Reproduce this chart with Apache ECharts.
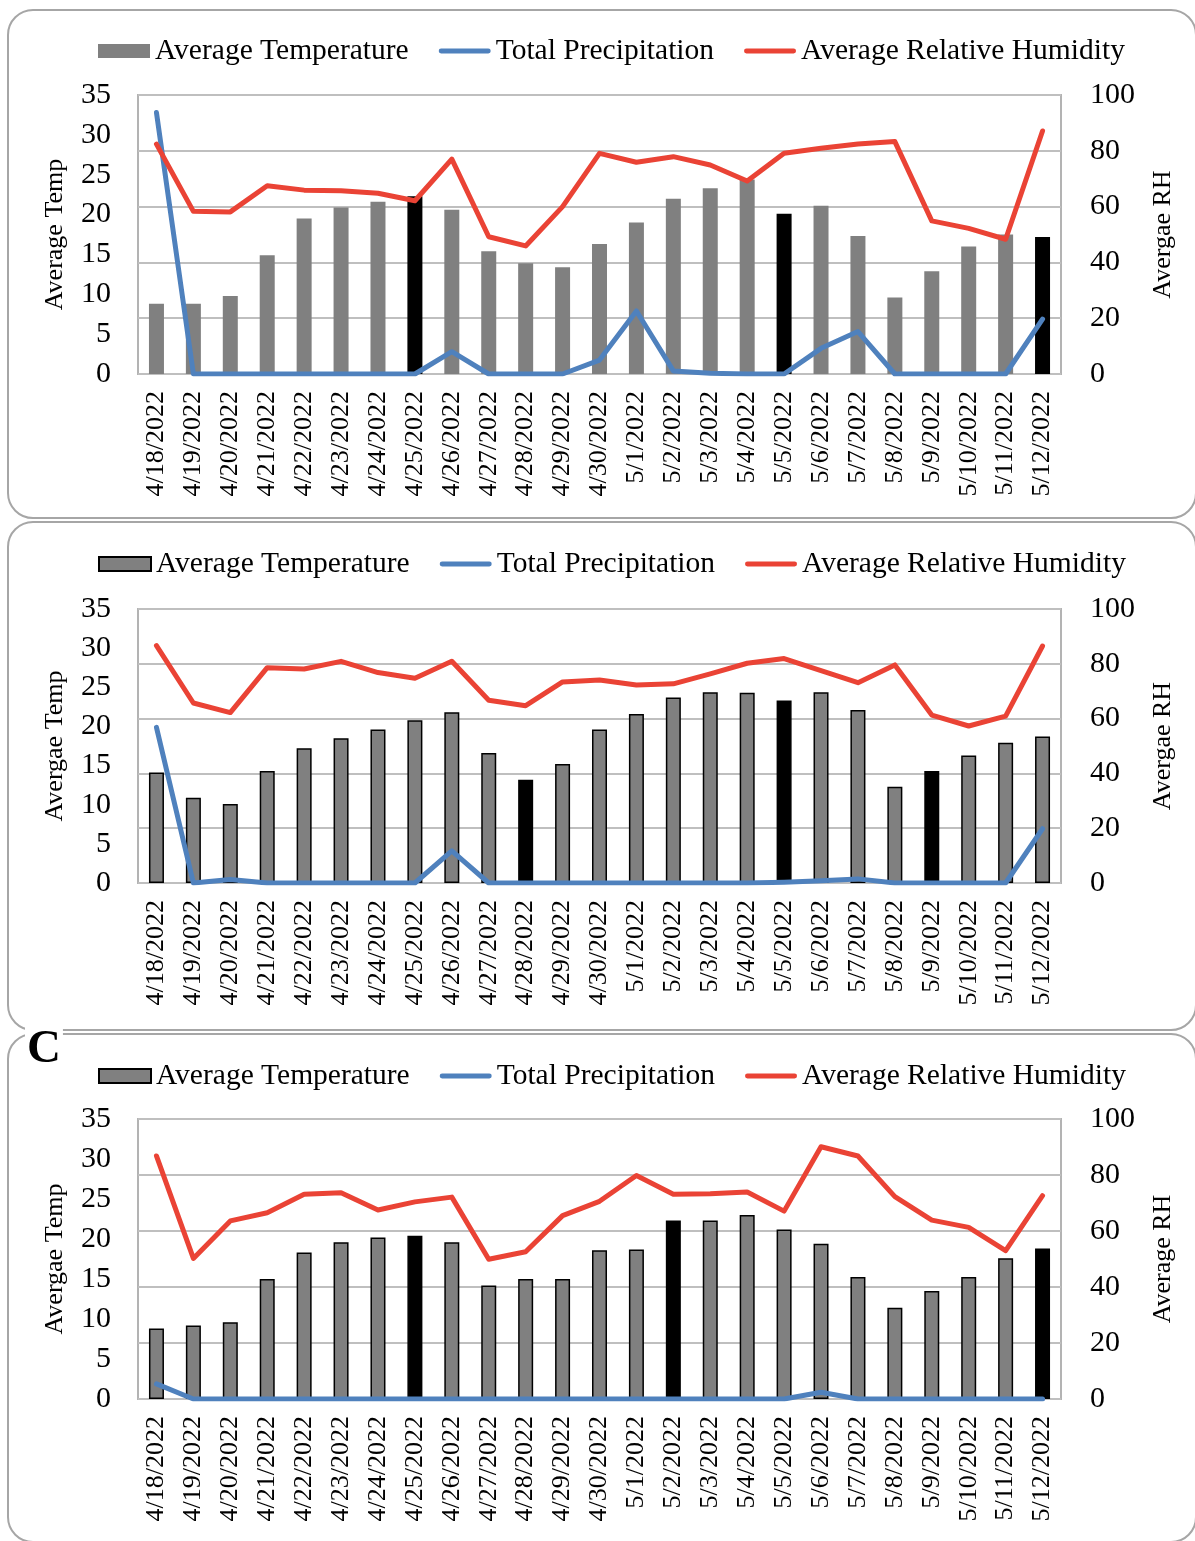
<!DOCTYPE html>
<html>
<head>
<meta charset="utf-8">
<script src="https://cdn.jsdelivr.net/npm/echarts@6/dist/echarts.min.js"></script>
<style>
  html, body { margin: 0; padding: 0; background: #fff; overflow: hidden; }
  #chart { width: 1195px; height: 1541px; }
</style>
</head>
<body>
<div id="chart"></div>
<script>
// categories
const dates = ['4/18/2022', '4/19/2022', '4/20/2022', '4/21/2022', '4/22/2022', '4/23/2022',
  '4/24/2022', '4/25/2022', '4/26/2022', '4/27/2022', '4/28/2022', '4/29/2022', '4/30/2022',
  '5/1/2022', '5/2/2022', '5/3/2022', '5/4/2022', '5/5/2022', '5/6/2022', '5/7/2022',
  '5/8/2022', '5/9/2022', '5/10/2022', '5/11/2022', '5/12/2022']

// axis ticks: [min, max, step]
const tempTicks = [0, 35, 5]
const rhTicks = [0, 100, 20]

// panel 1
const tempA = [8.8, 8.8, 9.8, 14.9, 19.5, 20.9, 21.6, 22.3, 20.6, 15.4, 13.9, 13.4, 16.3,
  19.0, 22.0, 23.3, 24.4, 20.1, 21.1, 17.3, 9.6, 12.9, 16.0, 17.5, 17.2]
const precipA = [93.7, 0, 0, 0, 0, 0, 0, 0, 8.0, 0, 0, 0, 5.0,
  22.6, 1.1, 0.3, 0, 0, 9.2, 15.2, 0, 0, 0, 0, 19.7]
const rhA = [82.4, 58.3, 58.1, 67.5, 65.9, 65.7, 64.8, 62.1, 77.0, 49.2, 45.9, 60.0, 79.1,
  75.9, 77.9, 74.9, 69.2, 79.1, 80.9, 82.4, 83.3, 54.9, 52.2, 48.3, 87.1]
const darkA = [7, 17, 24]

// panel 2
const tempB = [14.1, 10.9, 10.1, 14.3, 17.2, 18.5, 19.6, 20.8, 21.8, 16.6, 13.2, 15.2, 19.6,
  21.6, 23.7, 24.35, 24.3, 23.3, 24.35, 22.1, 12.3, 14.3, 16.3, 17.9, 18.7]
const precipB = [56.8, 0, 1.3, 0, 0, 0, 0, 0, 11.7, 0, 0, 0, 0,
  0, 0, 0, 0, 0.3, 0.8, 1.5, 0, 0, 0, 0, 19.8]
const rhB = [86.6, 65.7, 62.2, 78.6, 78.1, 80.9, 76.8, 74.7, 80.9, 66.7, 64.7, 73.4, 74.1,
  72.3, 72.7, 76.3, 80.2, 81.9, 77.5, 73.1, 79.6, 61.3, 57.3, 60.9, 86.5]
const darkB = [10, 17, 21]

// panel 3
const tempC = [8.8, 9.2, 9.6, 15.0, 18.3, 19.6, 20.2, 20.4, 19.6, 14.2, 15.0, 15.0, 18.6,
  18.7, 22.3, 22.3, 23.0, 21.2, 19.4, 15.25, 11.4, 13.5, 15.25, 17.6, 18.8]
const precipC = [5.4, 0, 0, 0, 0, 0, 0, 0, 0, 0, 0, 0, 0,
  0, 0, 0, 0, 0, 2.4, 0, 0, 0, 0, 0, 0]
const rhC = [86.8, 50.2, 63.6, 66.5, 73.1, 73.7, 67.5, 70.4, 72.1, 49.9, 52.6, 65.5, 70.6,
  79.8, 73.1, 73.3, 73.9, 67.1, 90.1, 86.8, 72.3, 63.9, 61.3, 53.0, 72.6]
const darkC = [7, 14, 24]

const seriesNames = ['Average Temperature', 'Total Precipitation', 'Average Relative Humidity']

const FONT = '"Liberation Serif", "Times New Roman", serif'
const GRAY = '#808080'
const BLUE = '#4f81bd'
const RED = '#ea4335'
const GRID_LINE = '#bfbfbf'
// thin rounded bar used as legend icon for the two lines
const LINE_ICON = 'path://M2.5,0 L51.5,0 A2.5,2.5 0 0 1 51.5,5 L2.5,5 A2.5,2.5 0 0 1 2.5,0 Z'

const panels = [
  { top: 95, height: 279, legendTop: 36, temp: tempA, precip: precipA, rh: rhA, dark: darkA,
    leftName: 'Average Temp', rightName: 'Avergae RH', outlined: false },
  { top: 609, height: 274, legendTop: 549, temp: tempB, precip: precipB, rh: rhB, dark: darkB,
    leftName: 'Avergae Temp', rightName: 'Avergae RH', outlined: true },
  { top: 1119, height: 280, legendTop: 1061, temp: tempC, precip: precipC, rh: rhC, dark: darkC,
    leftName: 'Avergae Temp', rightName: 'Average RH', outlined: true },
]

const option = {
  animation: false,
  backgroundColor: '#fff',
  textStyle: { fontFamily: FONT, color: '#000' },
  title: {
    text: 'C',
    left: 25,
    top: 1026,
    padding: [0, 2, 0, 2],
    backgroundColor: '#fff',
    textStyle: { fontFamily: FONT, fontWeight: 'bold', fontSize: 47, color: '#000' },
  },
  graphic: [],
  grid: [],
  legend: [],
  xAxis: [],
  yAxis: [],
  series: [],
}

// panel frames
const frameTops = [10, 522, 1034]
frameTops.forEach(function (y) {
  option.graphic.push({
    type: 'rect',
    shape: { x: 8, y: y, width: 1188, height: 508, r: 25 },
    style: { fill: 'none', stroke: '#a6a6a6', lineWidth: 2 },
    z: -10,
    silent: true,
  })
})

panels.forEach(function (p, i) {
  option.grid.push({
    left: 138, right: 134, top: p.top, height: p.height,
    show: true, borderColor: '#b3b3b3', borderWidth: 2,
  })

  option.legend.push({
    left: 98,
    top: p.legendTop,
    padding: 0,
    itemWidth: 52,
    itemHeight: 14,
    itemGap: 30,
    selectedMode: false,
    textStyle: { fontFamily: FONT, fontSize: 29.5, color: '#000', lineHeight: 29 },
    data: [
      { name: seriesNames[0], icon: 'rect',
        itemStyle: p.outlined ? { color: GRAY, borderColor: '#000', borderWidth: 2 } : { color: GRAY, borderWidth: 0 } },
      { name: seriesNames[1], icon: LINE_ICON, itemStyle: { color: BLUE, borderWidth: 0 } },
      { name: seriesNames[2], icon: LINE_ICON, itemStyle: { color: RED, borderWidth: 0 } },
    ],
  })

  option.xAxis.push({
    type: 'category',
    gridIndex: i,
    data: dates,
    axisLine: { show: false },
    axisTick: { show: false },
    axisLabel: {
      interval: 0, rotate: 90, margin: 17,
      fontFamily: FONT, fontSize: 26, color: '#000',
    },
  })

  option.yAxis.push({
    type: 'value',
    gridIndex: i,
    min: tempTicks[0], max: tempTicks[1], interval: tempTicks[2],
    name: p.leftName,
    nameLocation: 'middle',
    nameRotate: 90,
    nameGap: 70,
    nameTextStyle: { fontFamily: FONT, fontSize: 26, color: '#000' },
    splitLine: { show: false },
    axisLine: { show: false },
    axisTick: { show: false },
    axisLabel: { margin: 27, fontFamily: FONT, fontSize: 30, color: '#000' },
  })
  option.yAxis.push({
    type: 'value',
    gridIndex: i,
    position: 'right',
    min: rhTicks[0], max: rhTicks[1], interval: rhTicks[2],
    name: p.rightName,
    nameLocation: 'middle',
    nameRotate: 90,
    nameGap: 89,
    nameTextStyle: { fontFamily: FONT, fontSize: 26, color: '#000' },
    splitLine: { show: true, lineStyle: { color: GRID_LINE, width: 2 } },
    axisLine: { show: false },
    axisTick: { show: false },
    axisLabel: { margin: 29, fontFamily: FONT, fontSize: 30, color: '#000' },
  })

  const barData = p.temp.map(function (v, k) {
    if (p.dark.indexOf(k) >= 0) {
      return { value: v, itemStyle: { color: '#000' } }
    }
    return v
  })

  option.series.push({
    name: seriesNames[0],
    type: 'bar',
    xAxisIndex: i,
    yAxisIndex: i * 2,
    barWidth: 15,
    data: barData,
    itemStyle: p.outlined
      ? { color: GRAY, borderColor: '#000', borderWidth: 1.5 }
      : { color: GRAY },
  })
  option.series.push({
    name: seriesNames[1],
    type: 'line',
    xAxisIndex: i,
    yAxisIndex: i * 2 + 1,
    data: p.precip,
    symbol: 'none',
    lineStyle: { color: BLUE, width: 5, cap: 'round', join: 'round' },
    itemStyle: { color: BLUE },
  })
  option.series.push({
    name: seriesNames[2],
    type: 'line',
    xAxisIndex: i,
    yAxisIndex: i * 2 + 1,
    data: p.rh,
    symbol: 'none',
    lineStyle: { color: RED, width: 5, cap: 'round', join: 'round' },
    itemStyle: { color: RED },
  })
})

const chart = echarts.init(document.getElementById('chart'))
chart.setOption(option)
</script>
</body>
</html>
